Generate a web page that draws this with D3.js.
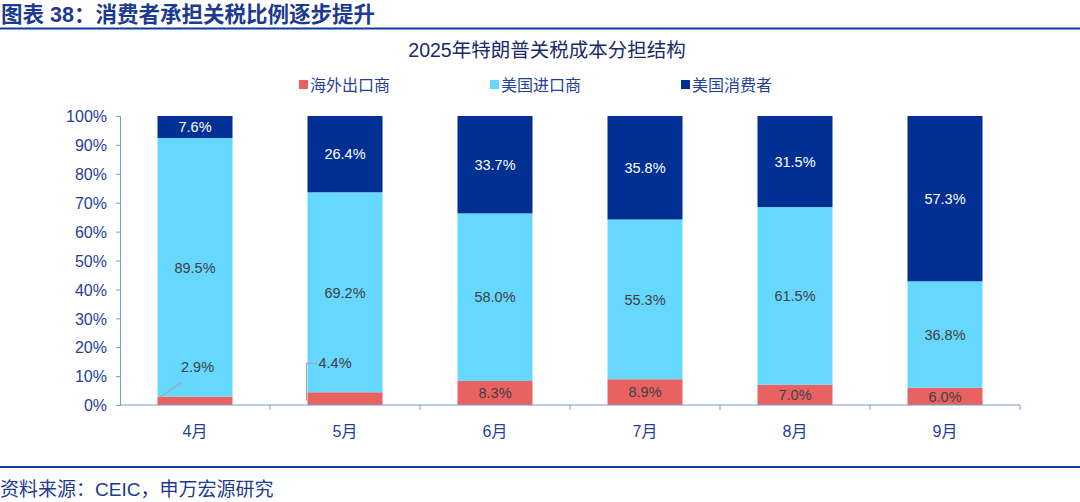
<!DOCTYPE html>
<html>
<head>
<meta charset="UTF-8">
<style>
  body { margin: 0; background: #fff; }
  svg { display: block; font-family: "Liberation Sans", "Noto Sans CJK SC", sans-serif; }
</style>
</head>
<body>
<svg></svg>
<script src="https://cdnjs.cloudflare.com/ajax/libs/d3/7.8.5/d3.min.js"></script>
<script>
let width = 1080, height = 502;

// data
let months = ["4月", "5月", "6月", "7月", "8月", "9月"];
let exporters = [2.9, 4.4, 8.3, 8.9, 7.0, 6.0];
let importers = [89.5, 69.2, 58.0, 55.3, 61.5, 36.8];
let consumers = [7.6, 26.4, 33.7, 35.8, 31.5, 57.3];
let seriesNames = ["海外出口商", "美国进口商", "美国消费者"];
let yTicks = [0, 10, 20, 30, 40, 50, 60, 70, 80, 90, 100];

let colors = ["#e86262", "#66d7ff", "#003093"];
let labelColors = ["#404040", "#404040", "#ffffff"];
let cjk = '"Liberation Sans", "Noto Sans CJK SC", sans-serif';
let blue = "#1f3f99";

let svg = d3.select("svg")
  .attr("width", width)
  .attr("height", height);

// header
svg.append("text")
  .attr("x", 1).attr("y", 22)
  .style("font-family", cjk)
  .style("font-weight", "bold")
  .style("font-size", "21.5px")
  .attr("fill", "#1c3a8f")
  .text("图表 38：消费者承担关税比例逐步提升");

svg.append("line")
  .attr("x1", 0).attr("x2", width)
  .attr("y1", 28.5).attr("y2", 28.5)
  .attr("stroke", "#0b3c9c").attr("stroke-width", 2);

svg.append("line")
  .attr("x1", 0).attr("x2", width)
  .attr("y1", 467).attr("y2", 467)
  .attr("stroke", "#0b3c9c").attr("stroke-width", 2);

svg.append("text")
  .attr("x", 0).attr("y", 496)
  .style("font-family", cjk)
  .style("font-size", "19px")
  .attr("fill", "#1c3a8f")
  .text("资料来源：CEIC，申万宏源研究");

// chart title
svg.append("text")
  .attr("x", 547).attr("y", 57)
  .attr("text-anchor", "middle")
  .style("font-family", cjk)
  .style("font-size", "19.5px")
  .attr("fill", "#1a2a6c")
  .text("2025年特朗普关税成本分担结构");

// legend
let legendX = [299, 490, 681];
seriesNames.forEach((name, i) => {
  svg.append("rect")
    .attr("x", legendX[i]).attr("y", 80)
    .attr("width", 9).attr("height", 9)
    .attr("fill", colors[i]);
  svg.append("text")
    .attr("x", legendX[i] + 11).attr("y", 91)
    .style("font-family", cjk)
    .style("font-size", "16px")
    .attr("fill", blue)
    .text(name);
});

// scales
let x = d3.scaleBand()
  .domain(months)
  .range([120, 1020])
  .paddingInner(0.5)
  .paddingOuter(0.25);

let y = d3.scaleLinear()
  .domain([0, 100])
  .range([405, 116]);

// stacked data
let rows = months.map((m, i) => ({ month: m, a: exporters[i], b: importers[i], c: consumers[i] }));
let stack = d3.stack().keys(["a", "b", "c"]);
let layers = stack(rows);

let g = svg.append("g");
layers.forEach((layer, li) => {
  g.selectAll(".bar" + li)
    .data(layer)
    .enter()
    .append("rect")
      .attr("x", d => x(d.data.month))
      .attr("width", x.bandwidth())
      .attr("y", d => y(Math.min(d[1], 100)))
      .attr("height", d => y(d[0]) - y(Math.min(d[1], 100)))
      .attr("fill", colors[li]);
});

// axes
let yAxis = svg.append("g")
  .attr("transform", "translate(120,0)")
  .call(d3.axisLeft(y).tickValues(yTicks).tickSize(4).tickFormat(d => d + "%"));
yAxis.select(".domain").attr("stroke", "#7a9ad0");
yAxis.selectAll(".tick line").attr("stroke", "#7a9ad0");
yAxis.selectAll(".tick text")
  .attr("x", -13)
  .attr("dy", "0.36em")
  .style("font-size", "16px")
  .attr("fill", blue);

let xAxis = svg.append("g")
  .attr("transform", "translate(0,405)");
xAxis.append("line")
  .attr("x1", 120).attr("x2", 1020)
  .attr("stroke", "#7a9ad0");
xAxis.selectAll(".xt")
  .data(months)
  .enter()
  .append("line")
    .attr("x1", (d, i) => 120 + x.step() * (i + 1))
    .attr("x2", (d, i) => 120 + x.step() * (i + 1))
    .attr("y1", 0).attr("y2", 5)
    .attr("stroke", "#7a9ad0");
xAxis.selectAll(".xl")
  .data(months)
  .enter()
  .append("text")
    .attr("x", d => x(d) + x.bandwidth() / 2)
    .attr("y", 32)
    .attr("text-anchor", "middle")
    .style("font-family", cjk)
    .style("font-size", "16px")
    .attr("fill", blue)
    .text(d => d);

// value labels
layers.forEach((layer, li) => {
  layer.forEach((d, i) => {
    let cx = x(d.data.month) + x.bandwidth() / 2;
    let v = d[1] - d[0];
    let txt = v.toFixed(1) + "%";
    if (li === 0 && i === 0) {
      svg.append("line")
        .attr("x1", x(d.data.month) + 2).attr("y1", y(d[1]) + 1)
        .attr("x2", cx - 13).attr("y2", y(d[1] + 5))
        .attr("stroke", "#a6a6a6").attr("stroke-width", 1.2);
      svg.append("text")
        .attr("x", cx - 14).attr("y", y(d[1] + 8.5))
        .style("font-size", "14.5px")
        .attr("fill", labelColors[li])
        .text(txt);
      return;
    }
    if (li === 0 && i === 1) {
      let lx = x(d.data.month) - 1;
      svg.append("path")
        .attr("d", "M" + lx + "," + (y(d[1]) + 8) + "V" + y(d[1] + 10) + "H" + (lx + 10))
        .attr("fill", "none")
        .attr("stroke", "#a6a6a6").attr("stroke-width", 1.2);
      svg.append("text")
        .attr("x", lx + 12).attr("y", y(d[1] + 8.5))
        .style("font-size", "14.5px")
        .attr("fill", labelColors[li])
        .text(txt);
      return;
    }
    svg.append("text")
      .attr("x", cx)
      .attr("y", (y(d[0]) + y(Math.min(d[1], 100))) / 2)
      .attr("dy", "0.36em")
      .attr("text-anchor", "middle")
      .style("font-size", "14.5px")
      .attr("fill", labelColors[li])
      .text(txt);
  });
});
</script>
</body>
</html>
